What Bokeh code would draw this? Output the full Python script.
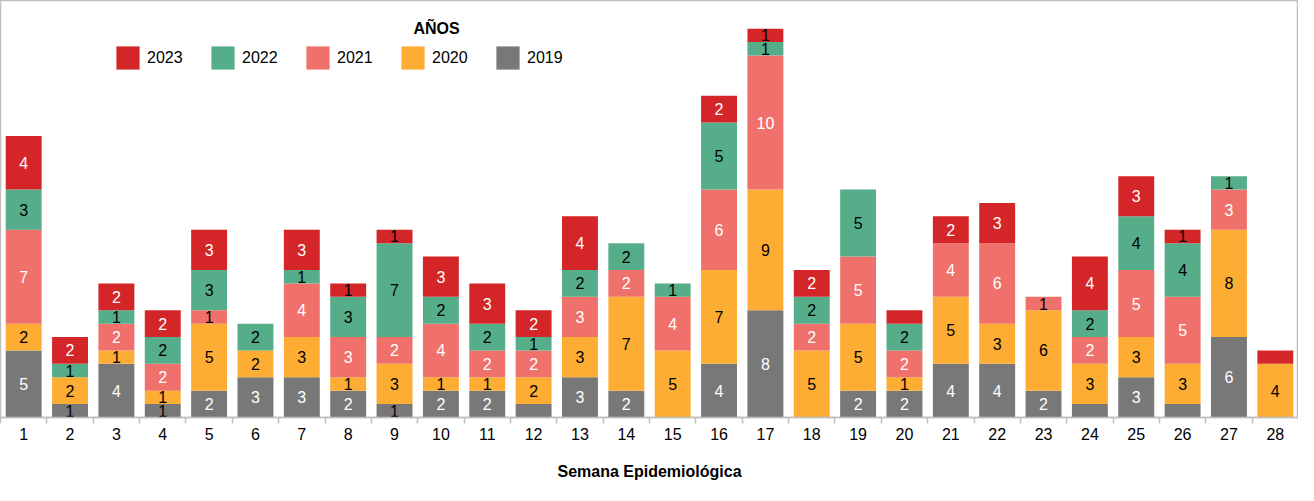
from bokeh.plotting import figure
from bokeh.models import ColumnDataSource, FixedTicker, Legend, LegendItem, Label, Range1d
from bokeh.core.properties import value
from bokeh.embed import file_html
from bokeh.resources import INLINE

weeks = list(range(1, 29))
s2019 = [5, 1, 4, 1, 2, 3, 3, 2, 1, 2, 2, 1, 3, 2, 0, 4, 8, 0, 2, 2, 4, 4, 2, 1, 3, 1, 6, 0]
s2020 = [2, 2, 1, 1, 5, 2, 3, 1, 3, 1, 1, 2, 3, 7, 5, 7, 9, 5, 5, 1, 5, 3, 6, 3, 3, 3, 8, 4]
s2021 = [7, 0, 2, 2, 1, 0, 4, 3, 2, 4, 2, 2, 3, 2, 4, 6, 10, 2, 5, 2, 4, 6, 1, 2, 5, 5, 3, 0]
s2022 = [3, 1, 1, 2, 3, 2, 1, 3, 7, 2, 2, 1, 2, 2, 1, 5, 1, 2, 5, 2, 0, 0, 0, 2, 4, 4, 1, 0]
s2023 = [4, 2, 2, 2, 3, 0, 3, 1, 1, 3, 3, 2, 4, 0, 0, 2, 1, 2, 0, 1, 2, 3, 0, 4, 3, 1, 0, 1]
years = ["2019", "2020", "2021", "2022", "2023"]
colors = ["#787878", "#FDAD33", "#F0716B", "#55AE89", "#D42628"]
text_colors = ["white", "black", "white", "black", "white"]
# weeks whose value label is not shown in the original
hidden = {"2019": [12, 24, 26], "2023": [20, 28]}

FONT = "Liberation Sans"

data = {"week": weeks, "2019": s2019, "2020": s2020, "2021": s2021, "2022": s2022, "2023": s2023}
src = ColumnDataSource(data)

p = figure(width=1298, height=485, output_backend="svg", toolbar_location=None,
           x_range=Range1d(0.5, 28.5), y_range=Range1d(0, 31.1),
           min_border_left=0, min_border_right=0, min_border_top=0, min_border_bottom=68)
p.grid.visible = False
p.outline_line_color = "#BFBFBF"
p.outline_line_width = 1.5
p.background_fill_color = "white"
p.border_fill_color = "white"

rs = p.vbar_stack(years, x="week", width=0.775, color=colors, line_color=None, source=src)

# value labels
lx, ly, lt, lc = [], [], [], []
series = [s2019, s2020, s2021, s2022, s2023]
for i, w in enumerate(weeks):
    base = 0
    for k, yr in enumerate(years):
        v = series[k][i]
        if v > 0 and w not in hidden.get(yr, []):
            lx.append(w)
            ly.append(base + v / 2)
            lt.append(str(v))
            lc.append("black" if v == 1 else text_colors[k])
        base += v
lsrc = ColumnDataSource(dict(x=lx, y=ly, t=lt, c=lc))
p.text(x="x", y="y", text="t", text_color="c", source=lsrc, text_align="center",
       text_baseline="middle", text_font_size="16px", text_font=value(FONT))

# axes
p.yaxis.visible = False
ax = p.xaxis[0]
ax.ticker = FixedTicker(ticks=weeks, minor_ticks=[w + 0.5 for w in range(0, 29)])
ax.major_tick_line_color = None
ax.major_tick_out = 0
ax.major_tick_in = 0
ax.minor_tick_line_color = "#BFBFBF"
ax.minor_tick_line_width = 1.5
ax.minor_tick_out = 6
ax.minor_tick_in = 0
ax.axis_line_color = "#BFBFBF"
ax.axis_line_width = 1.5
ax.major_label_text_font = FONT
ax.major_label_text_font_size = "16px"
ax.major_label_text_color = "black"
ax.major_label_standoff = 4
ax.axis_label = "Semana Epidemiológica"
ax.axis_label_text_font = FONT
ax.axis_label_text_font_size = "16px"
ax.axis_label_text_font_style = "bold"
ax.axis_label_text_color = "black"
ax.axis_label_standoff = 20

# legend
order = [4, 3, 2, 1, 0]
items = [LegendItem(label=years[k], renderers=[rs[k]]) for k in order]
leg = Legend(items=items, orientation="horizontal", location=(113, 345),
             glyph_width=29, glyph_height=29, label_standoff=5, label_width=50,
             spacing=11, padding=0, margin=0, border_line_color=None,
             background_fill_alpha=0, label_text_font=FONT, label_text_font_size="16px",
             label_text_color="black")
p.add_layout(leg, "center")

p.add_layout(Label(x=436, y=389, x_units="screen", y_units="screen", text="AÑOS",
                   text_align="center", text_baseline="middle", text_font=FONT,
                   text_font_size="16px", text_font_style="bold", text_color="black"))

open("out.html", "w").write(file_html(p, INLINE))
